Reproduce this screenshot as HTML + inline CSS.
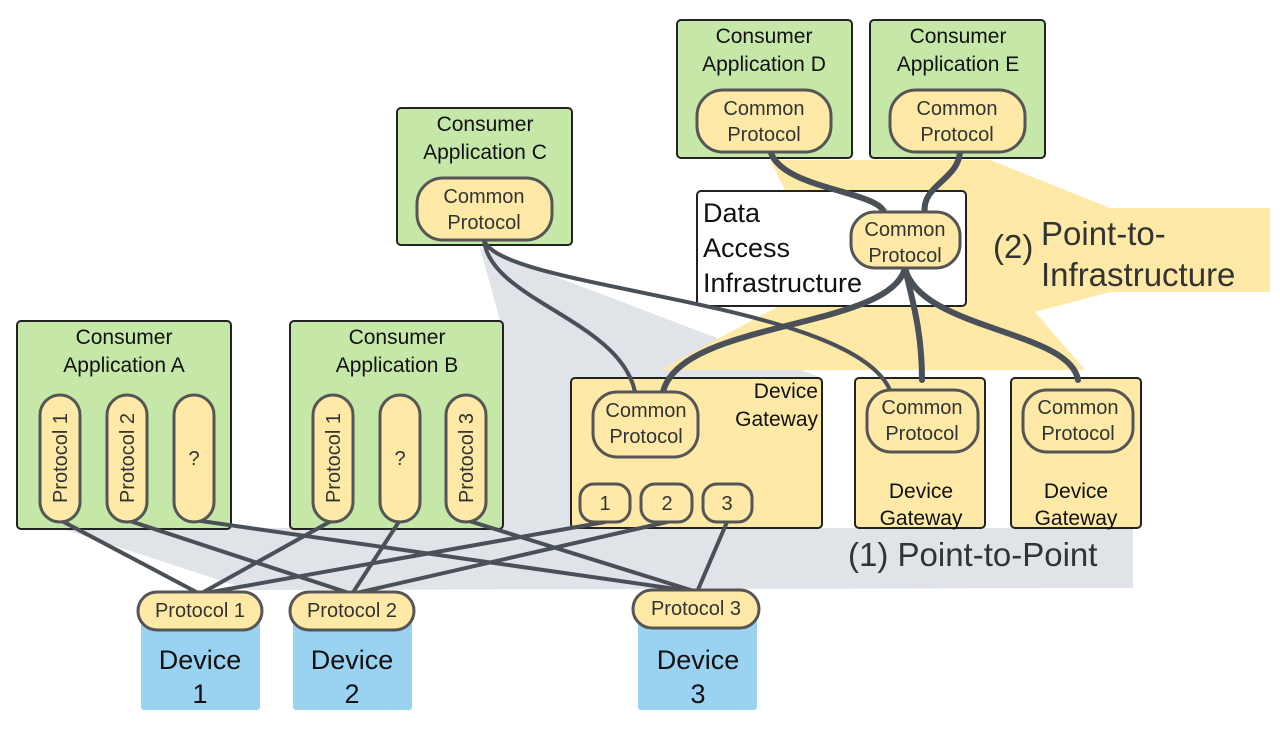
<!DOCTYPE html>
<html><head><meta charset="utf-8"><style>
html,body{margin:0;padding:0;background:#fff;width:1280px;height:729px;overflow:hidden}
svg{display:block;font-family:"Liberation Sans",sans-serif}
</style></head><body>
<svg width="1280" height="729" viewBox="0 0 1280 729">
<polygon points="480,248 822,378 822,528 1133,528 1133,588 250,590 60,528 500,528 500,320" fill="#e0e3e8"/>
<polygon points="770,160 990,160 1110,208 1270,208 1270,292 1110,292 1035,312 1085,370 660,370 790,300 790,200" fill="#fee9a6"/>

<g stroke="#222" stroke-width="2">
<rect x="17" y="321" width="214" height="208" rx="4" fill="#c5e8a8"/>
<rect x="290" y="321" width="213" height="208" rx="4" fill="#c5e8a8"/>
<rect x="397" y="108" width="175" height="137" rx="4" fill="#c5e8a8"/>
<rect x="677" y="20" width="175" height="138" rx="4" fill="#c5e8a8"/>
<rect x="870" y="20" width="175" height="138" rx="4" fill="#c5e8a8"/>
<rect x="697" y="191" width="269" height="115" rx="4" fill="#fff"/>
<rect x="571" y="378" width="251" height="150" rx="4" fill="#fee9a6"/>
<rect x="855" y="378" width="130" height="150" rx="4" fill="#fee9a6"/>
<rect x="1011" y="378" width="130" height="150" rx="4" fill="#fee9a6"/>
</g>
<g fill="#9ad2f2">
<rect x="141" y="612" width="119" height="98" rx="3"/>
<rect x="293" y="612" width="119" height="98" rx="3"/>
<rect x="638" y="612" width="119" height="98" rx="3"/>
</g>

<g stroke="#4a5058" stroke-width="4" fill="none" stroke-linecap="round">
<line x1="60" y1="520" x2="200" y2="594"/>
<line x1="127" y1="520" x2="352" y2="594"/>
<line x1="194" y1="520" x2="697" y2="592"/>
<line x1="333" y1="520" x2="200" y2="594"/>
<line x1="400" y1="520" x2="352" y2="594"/>
<line x1="466" y1="520" x2="697" y2="592"/>
<line x1="605" y1="522" x2="200" y2="594"/>
<line x1="667" y1="522" x2="352" y2="594"/>
<line x1="727" y1="522" x2="697" y2="592"/>
<path d="M484,240 C490,300 620,320 635,392"/>
<path d="M484,240 C500,290 850,300 890,390"/>
</g>
<g stroke="#4a5058" stroke-width="6" fill="none" stroke-linecap="round">
<path d="M905,268 C890,330 680,320 663,392"/>
<path d="M905,268 C912,300 922,330 922,380"/>
<path d="M905,268 C920,330 1070,330 1078,380"/>
<path d="M770,150 C780,190 880,190 885,214"/>
<path d="M960,150 C960,180 920,185 925,214"/>
</g>

<g fill="#fee9a6" stroke="#555" stroke-width="3">
<rect x="40" y="395" width="40" height="127" rx="20"/>
<rect x="107" y="395" width="40" height="127" rx="20"/>
<rect x="174" y="395" width="40" height="127" rx="20"/>
<rect x="313" y="395" width="40" height="127" rx="20"/>
<rect x="380" y="395" width="40" height="127" rx="20"/>
<rect x="446" y="395" width="40" height="127" rx="20"/>
<rect x="417" y="178" width="135" height="62" rx="26"/>
<rect x="697" y="90" width="134" height="62" rx="26"/>
<rect x="890" y="90" width="135" height="62" rx="26"/>
<rect x="851" y="212" width="109" height="56" rx="24"/>
<rect x="593" y="392" width="105" height="65" rx="24"/>
<rect x="867" y="390" width="111" height="62" rx="24"/>
<rect x="1023" y="390" width="110" height="62" rx="24"/>
<rect x="580" y="484" width="50" height="38" rx="14"/>
<rect x="641" y="484" width="51" height="38" rx="14"/>
<rect x="703" y="484" width="49" height="38" rx="14"/>
<rect x="138" y="592" width="124" height="38" rx="19"/>
<rect x="290" y="592" width="124" height="38" rx="19"/>
<rect x="633" y="590" width="126" height="38" rx="19"/>
</g>

<g font-size="21" fill="#111" text-anchor="middle">
<text x="124" y="344">Consumer</text><text x="124" y="372">Application A</text>
<text x="397" y="344">Consumer</text><text x="397" y="372">Application B</text>
<text x="485" y="131">Consumer</text><text x="485" y="159">Application C</text>
<text x="764" y="43">Consumer</text><text x="764" y="71">Application D</text>
<text x="958" y="43">Consumer</text><text x="958" y="71">Application E</text>
<text x="921" y="498">Device</text><text x="921" y="525">Gateway</text>
<text x="1076" y="498">Device</text><text x="1076" y="525">Gateway</text>
<text x="818" y="398" text-anchor="end">Device</text><text x="818" y="426" text-anchor="end">Gateway</text>
</g>
<g font-size="20" fill="#333" text-anchor="middle">
<text x="484" y="203">Common</text><text x="484" y="229">Protocol</text>
<text x="764" y="115">Common</text><text x="764" y="141">Protocol</text>
<text x="957" y="115">Common</text><text x="957" y="141">Protocol</text>
<text x="905" y="236">Common</text><text x="905" y="262">Protocol</text>
<text x="646" y="417">Common</text><text x="646" y="443">Protocol</text>
<text x="922" y="414">Common</text><text x="922" y="440">Protocol</text>
<text x="1078" y="414">Common</text><text x="1078" y="440">Protocol</text>
<text x="605" y="510">1</text><text x="667" y="510">2</text><text x="727" y="510">3</text>
<text x="200" y="617">Protocol 1</text><text x="352" y="617">Protocol 2</text><text x="696" y="615">Protocol 3</text>
<text x="194" y="465">?</text><text x="400" y="465">?</text>
<text transform="translate(67,458) rotate(-90)">Protocol 1</text>
<text transform="translate(134,458) rotate(-90)">Protocol 2</text>
<text transform="translate(340,458) rotate(-90)">Protocol 1</text>
<text transform="translate(473,458) rotate(-90)">Protocol 3</text>
</g>
<g font-size="27" fill="#111">
<text x="703" y="222">Data</text><text x="703" y="257">Access</text><text x="703" y="292">Infrastructure</text>
</g>
<g font-size="27" fill="#111" text-anchor="middle">
<text x="200" y="669">Device</text><text x="200" y="703">1</text>
<text x="352" y="669">Device</text><text x="352" y="703">2</text>
<text x="698" y="669">Device</text><text x="698" y="703">3</text>
</g>
<g font-size="33" fill="#333">
<text x="848" y="566">(1) Point-to-Point</text>
<text x="993" y="258">(2)</text>
<text x="1041" y="245">Point-to-</text>
<text x="1041" y="286">Infrastructure</text>
</g>
</svg>
</body></html>
